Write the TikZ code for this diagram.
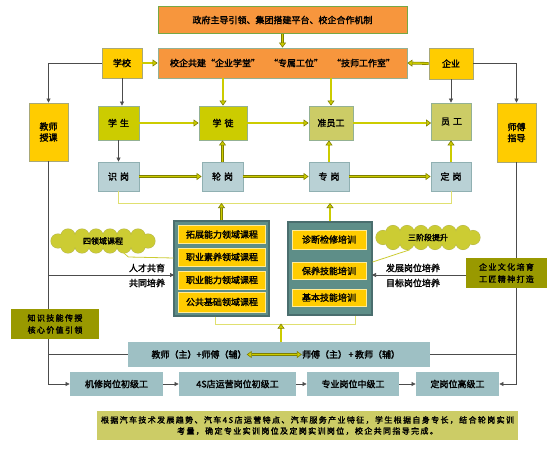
\documentclass[tikz,border=0pt]{standalone}
\usepackage{fontspec}
\setmainfont{Noto Sans CJK SC}[AutoFakeBold=2]
\newfontfamily\spacedfont{Noto Sans CJK SC}[LetterSpace=17, AutoFakeBold=2]
\usetikzlibrary{arrows.meta}

\definecolor{orangeF}{HTML}{F7963D}
\definecolor{greenB}{HTML}{77A845}
\definecolor{goldF}{HTML}{FFCC00}
\definecolor{goldB}{HTML}{A8A878}
\definecolor{oliveF}{HTML}{CCCC00}
\definecolor{paleOl}{HTML}{CCCC66}
\definecolor{boxB}{HTML}{93B193}
\definecolor{iceF}{HTML}{B9D1D5}
\definecolor{iceB}{HTML}{90B0B2}
\definecolor{steelF}{HTML}{9EC0C4}
\definecolor{frameF}{HTML}{5E8E88}
\definecolor{frameB}{HTML}{4A6E6E}
\definecolor{darkOl}{HTML}{999900}
\definecolor{arrowOl}{HTML}{7F7F00}
\definecolor{yLine}{HTML}{E0E070}
\definecolor{cloudF}{HTML}{CCCC33}

% cloud made of overlapping puffs, centred on #1
\newcommand{\puffcloud}[1]{%
  \begin{scope}[shift={#1}]
    \foreach \px/\py in {-45/0, -35/-5, -21/-5, -7/-5, 7/-5, 21/-5, 35/-5, 45/0, 35/5, 21/5, 7/5, -7/5, -21/5, -35/5}
      \draw[draw=darkOl!70, line width=1pt] (\px,\py) circle (7);
    \foreach \px/\py in {-45/0, -35/-5, -21/-5, -7/-5, 7/-5, 21/-5, 35/-5, 45/0, 35/5, 21/5, 7/5, -7/5, -21/5, -35/5}
      \fill[cloudF] (\px,\py) circle (7);
    \fill[cloudF] (0,0) ellipse (42 and 7);
  \end{scope}}

\begin{document}
\begin{tikzpicture}[x=1pt, y=-1pt,
  every node/.style={font=\bfseries\fontsize{9}{11}\selectfont, inner sep=0pt},
  box/.style={draw, line width=0.8pt, align=center},
  wire/.style={draw=black!70, line width=0.6pt},
  wtip/.tip={Triangle[length=4pt, width=4pt]},
  fathead/.tip={Triangle[open, fill=oliveF, length=5pt, width=7pt]},
  fat/.style={draw=arrowOl, double=oliveF, double distance=1.6pt, line width=0.6pt, -fathead},
  yline/.style={draw=yLine, line width=1pt},
  callout/.style={draw=cloudF, line width=0.8pt},
  puff/.style={minimum width=100pt, minimum height=24pt, font=\bfseries\fontsize{8}{10}\selectfont}]
	\fill[white] (0,0) rectangle (558,450);
	\useasboundingbox (0,0) rectangle (558,450);
	% top rows
	\node[box, draw=greenB, fill=orangeF, minimum width=249pt, minimum height=27pt] (top) at (282.5,20) {政府主导引领、集团搭建平台、校企合作机制};
	\node[box, draw=boxB, fill=orangeF, minimum width=249pt, minimum height=30pt] (coop) at (282.5,63) {校企共建“企业学堂”\quad“专属工位”\quad“技师工作室”};
	\node[box, draw=goldB, fill=goldF, minimum width=40pt, minimum height=30pt] (school) at (122,63) {学校};
	\node[box, draw=goldB, fill=goldF, minimum width=44pt, minimum height=31pt] (firm) at (451,63.5) {企业};
	\node[box, draw=goldB, fill=goldF, minimum width=39pt, minimum height=58pt] (teach) at (48.5,132) {教师\\授课};
	\node[box, draw=goldB, fill=goldF, minimum width=39pt, minimum height=59pt] (master) at (516.5,132.5) {师傅\\指导};
	\node[box, draw=boxB, fill=oliveF, minimum width=41pt, minimum height=34pt] (stud) at (118.5,123) {学\hspace{3pt}生};
	\node[box, draw=boxB, fill=oliveF, minimum width=48pt, minimum height=34pt] (appr) at (223,123) {学\hspace{3pt}徒};
	\node[box, draw=boxB, fill=paleOl, minimum width=44pt, minimum height=34pt] (prep) at (331,123) {准员工};
	\node[box, draw=boxB, fill=paleOl, minimum width=40pt, minimum height=37pt] (staff) at (451.5,121.5) {员\hspace{3pt}工};
	\node[box, draw=iceB, fill=iceF, minimum width=41pt, minimum height=29pt] (shi) at (118.5,176.5) {识\hspace{3pt}岗};
	\node[box, draw=iceB, fill=iceF, minimum width=41pt, minimum height=29pt] (lun) at (222.5,176.5) {轮\hspace{3pt}岗};
	\node[box, draw=iceB, fill=iceF, minimum width=40pt, minimum height=29pt] (zhuan) at (329,176.5) {专\hspace{3pt}岗};
	\node[box, draw=iceB, fill=iceF, minimum width=40pt, minimum height=29pt] (ding) at (451,176.5) {定\hspace{3pt}岗};
	% course and training blocks
	\node[box, draw=frameB, fill=frameF, line width=1.2pt, minimum width=95pt, minimum height=95pt] (course) at (221.5,268.5) {};
	\node[box, draw=goldF!40, fill=goldF, minimum width=87pt, minimum height=18pt] (c1) at (222,234.5) {拓展能力领域课程};
	\node[box, draw=goldF!40, fill=goldF, minimum width=87pt, minimum height=18pt] (c2) at (222,257) {职业素养领域课程};
	\node[box, draw=goldF!40, fill=goldF, minimum width=87pt, minimum height=18pt] (c3) at (222,280) {职业能力领域课程};
	\node[box, draw=goldF!40, fill=goldF, minimum width=87pt, minimum height=20pt] (c4) at (222,302) {公共基础领域课程};
	\node[box, draw=frameB, fill=frameF, line width=1.2pt, minimum width=84pt, minimum height=93pt] (train) at (330,268.5) {};
	\node[box, draw=goldF!40, fill=goldF, minimum width=74pt, minimum height=19pt] (t1) at (329,239.5) {诊断检修培训};
	\node[box, draw=goldF!40, fill=goldF, minimum width=74pt, minimum height=17pt] (t2) at (329,271) {保养技能培训};
	\node[box, draw=goldF!40, fill=goldF, minimum width=74pt, minimum height=17pt] (t3) at (329,297.5) {基本技能培训};
	% clouds
	\puffcloud{(103,241)}
	\node[puff] (cloudL) at (103,241) {四领域课程};
	\puffcloud{(428,237.5)}
	\node[puff] (cloudR) at (428,237.5) {三阶段提升};
	% teacher row and bottom row
	\node[box, draw=none, fill=steelF, minimum width=302pt, minimum height=25pt] (trow) at (279,354.5) {};
	\node[fill=steelF] (tA) at (199,354.5) {教师（主）+师傅（辅）};
	\node[fill=steelF] (tB) at (351,354.5) {师傅（主）\,+\,教师（辅）};
	\node[box, draw=none, fill=steelF, minimum width=93pt, minimum height=24pt] (j1) at (116.5,384) {机修岗位初级工};
	\node[box, draw=none, fill=steelF, minimum width=117pt, minimum height=24pt] (j2) at (237.5,384) {4S店运营岗位初级工};
	\node[box, draw=none, fill=steelF, minimum width=92pt, minimum height=24pt] (j3) at (353,384) {专业岗位中级工};
	\node[box, draw=none, fill=steelF, minimum width=83pt, minimum height=24pt] (j4) at (457.5,384) {定岗位高级工};
	\node[box, draw=none, fill=paleOl, minimum width=421pt, minimum height=29pt, font=\spacedfont\bfseries\fontsize{8}{11}\selectfont] (note) at (307.5,425.5) {根据汽车技术发展趋势、汽车4S店运营特点、汽车服务产业特征，学生根据自身专长，结合轮岗实训\\考量，确定专业实训岗位及定岗实训岗位，校企共同指导完成。};
	% side labels
	\node (lab1) at (147,268) {人才共育};
	\node (lab2) at (147,283) {共同培养};
	\node (lab3) at (413,268) {发展岗位培养};
	\node (lab4) at (413,283) {目标岗位培养};
	\coordinate (inC) at (174,275);
	\coordinate (inT) at (372,275);
	\coordinate (yl) at (0,203);
	% thin connectors
	\draw[wire, -wtip] (school.west) -| (teach.north);
	\draw[wire, -wtip] (firm.east) -| (master.north);
	\draw[wire, -wtip] (school.south) -- (school.south |- stud.north);
	\draw[wire, -wtip] (firm.south) -- (firm.south |- staff.north);
	\draw[wire, -wtip] (stud.south) -- (shi.north);
	\draw[wire, -wtip] (teach.south) |- (j1.west);
	\draw[wire] (teach.south |- trow.west) -- (trow.west);
	\draw[wire, -wtip] (teach.south |- inC) -- (inC);
	\draw[wire, -wtip] (master.south) |- (j4.east);
	\draw[wire] (trow.east) -- (trow.east -| master.south);
	\draw[wire, -wtip] (master.south |- inT) -- (inT);
	\draw[wire, -wtip] (j1) -- (j2);
	\draw[wire, -wtip] (j2) -- (j3);
	\draw[wire, -wtip] (j3) -- (j4);
	% olive boxes over the wires
	\node[box, draw=none, fill=darkOl, minimum width=88pt, minimum height=30pt, align=left, font=\spacedfont\bfseries\fontsize{8}{12}\selectfont] (leftOl) at (55,324) {知识技能传授\\核心价值引领};
	\node[box, draw=none, fill=darkOl, minimum width=81pt, minimum height=30pt, align=left, font=\spacedfont\bfseries\fontsize{8}{12}\selectfont] (rightOl) at (506.5,273) {企业文化培育\\工匠精神打造};
	% fat arrows
	\draw[fat] (top.south) -- (coop.north);
	\draw[fat] (school.east) -- (coop.west);
	\draw[fat] (firm.west) -- (coop.east);
	\draw[fat] (appr.north |- coop.south) -- (appr.north);
	\draw[fat] (prep.north |- coop.south) -- (prep.north);
	\draw[fat] (stud) -- (appr);
	\draw[fat] (appr) -- (prep);
	\draw[fat] (prep.east) -- (prep.east -| staff.west);
	\draw[fat] (lun.north) -- (lun.north |- appr.south);
	\draw[fat] (zhuan.north) -- (zhuan.north |- prep.south);
	\draw[fat] (ding.north) -- (ding.north |- staff.south);
	\draw[fat] (shi) -- (lun);
	\draw[fat] (lun) -- (zhuan);
	\draw[fat] (zhuan) -- (ding);
	\draw[yline] (shi.south) -- (shi.south |- yl) -| (ding.south);
	\draw[fat] (course.north) -- (course.north |- yl);
	\draw[fat] (train.north) -- (train.north |- yl);
	\draw[yline] ([xshift=-6.5pt]course.south) -- ++(0,8) -| ([xshift=25pt]train.south);
	\draw[fat] ([xshift=2pt]trow.north) -- ++(0,-18);
	\draw[fat, fathead-fathead] (tA.east) -- (tB.west);
	% cloud pointers
	\draw[callout] ([yshift=10.5pt]course.west) -- ++(-45,-1) -- ([xshift=21pt]cloudL.south);
	\draw[callout] ([yshift=6.5pt]train.east) -- ([xshift=-18pt]cloudR.south);
\end{tikzpicture}
\end{document}
